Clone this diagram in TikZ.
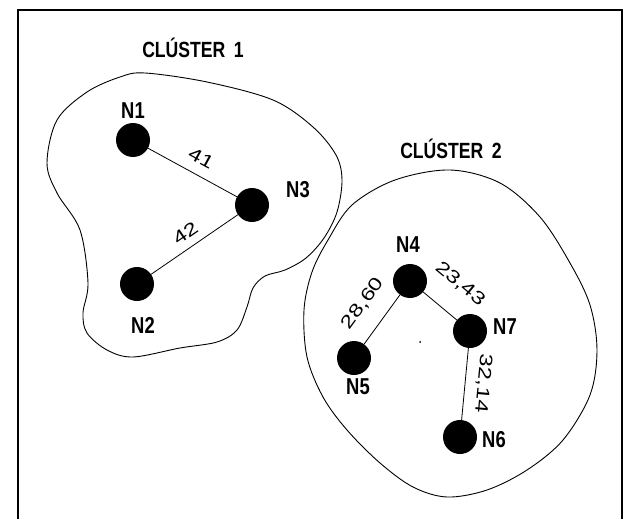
\documentclass[tikz,border=0pt]{standalone}
\usepackage{fontspec}
\newfontfamily\boldlab[FakeStretch=0.8]{Liberation Sans Bold}
\newfontfamily\thinlab[FakeStretch=1.3]{Liberation Sans}
\begin{document}
\begin{tikzpicture}[x=1pt,y=-1pt,
  dot/.style={circle,fill=black,inner sep=0pt,minimum size=34pt},
  nlab/.style={inner sep=0pt,font=\boldlab\fontsize{23}{23}\selectfont},
  clab/.style={inner sep=0pt,font=\boldlab\fontsize{22}{22}\selectfont},
  elab/.style={inner sep=0pt,font=\thinlab\fontsize{18}{18}\selectfont,sloped},
  edge/.style={line width=0.8pt},
  outline/.style={line width=0.9pt}]
\useasboundingbox (0,0) rectangle (624,519);
\draw[line width=2pt] (18,525) -- (18,10) -- (622,10) -- (622,525);
% cluster outlines
\draw[outline] plot[smooth cycle,tension=0.55] coordinates {
 (145,73) (207,82) (273,100) (313,127) (336,155) (342,180) (337,212)
 (324,238) (306,258) (285,270) (265,276) (253,288) (247,307) (237,330) (217,342)
 (180,348) (133,357) (107,350) (87,333) (83,313) (88,283) (80,230)
 (57,193) (47,163) (57,120) (87,92) (120,77)};
\draw[outline] plot[smooth cycle,tension=0.55] coordinates {
 (450,170) (500,183) (540,217) (570,263) (590,305) (597,350) (590,395)
 (563,440) (527,470) (487,490) (447,497) (413,487) (380,463) (347,430)
 (323,397) (307,357) (304,310) (312,272) (328,240) (352,205) (395,180)};
% titles
\node[clab] (t1) at (193,48) {CLÚSTER\, 1};
\node[clab] (t2) at (451,149) {CLÚSTER\, 2};
% nodes
\node[dot] (n1) at (133,140) {};
\node[dot] (n2) at (137,284) {};
\node[dot] (n3) at (252,205) {};
\node[dot] (n4) at (410,281) {};
\node[dot] (n5) at (354,358) {};
\node[dot] (n6) at (460,437) {};
\node[dot] (n7) at (470,331) {};
% node labels
\node[nlab] (l1) at (133,111) {N1};
\node[nlab] (l2) at (143,325) {N2};
\node[nlab] (l3) at (298,190) {N3};
\node[nlab] (l4) at (408,245) {N4};
\node[nlab] (l5) at (358,387) {N5};
\node[nlab] (l6) at (494,440) {N6};
\node[nlab] (l7) at (505,327) {N7};
% edges
\draw[edge] (n1) -- node[elab,pos=0.51,above=10pt] {41} (n3);
\draw[edge] (n2) -- node[elab,pos=0.49,above=8pt] {42} (n3);
\draw[edge] (n5) -- node[elab,pos=0.53,above=17pt] {28,60} (n4);
\draw[edge] (n4) -- node[elab,pos=0.53,above=22pt] {23,43} (n7);
\draw[edge] (n7) -- node[elab,pos=0.47,above=10pt,allow upside down] {32,14} (n6);
% stray point
\fill (420,342) circle (1pt);
\end{tikzpicture}
\end{document}
